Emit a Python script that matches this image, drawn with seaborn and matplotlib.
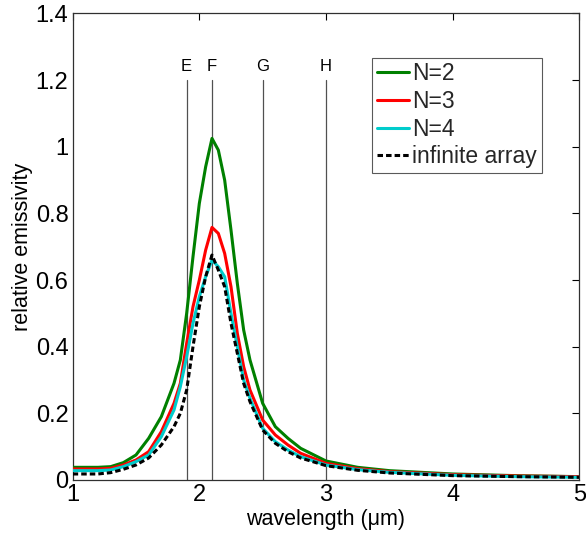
import numpy as np
import pandas as pd
import matplotlib
matplotlib.use("Agg")
import matplotlib.pyplot as plt
import seaborn as sns

wavelength = [1.0, 1.2, 1.3, 1.4, 1.5, 1.6, 1.7, 1.8, 1.85, 1.9, 1.95, 2.0, 2.05, 2.1, 2.15,
              2.2, 2.25, 2.3, 2.35, 2.4, 2.5, 2.6, 2.7, 2.8, 3.0, 3.25, 3.5, 4.0, 4.5, 5.0]
n2 = [0.038, 0.038, 0.040, 0.052, 0.075, 0.125, 0.19, 0.29, 0.36, 0.50, 0.67, 0.83, 0.94, 1.025, 0.99,
      0.90, 0.75, 0.59, 0.45, 0.36, 0.23, 0.16, 0.125, 0.095, 0.057, 0.038, 0.028, 0.018, 0.013, 0.010]
n3 = [0.033, 0.033, 0.035, 0.045, 0.060, 0.085, 0.145, 0.23, 0.29, 0.41, 0.52, 0.60, 0.69, 0.758, 0.74,
      0.68, 0.58, 0.44, 0.34, 0.27, 0.18, 0.135, 0.105, 0.080, 0.050, 0.034, 0.025, 0.016, 0.012, 0.010]
n4 = [0.028, 0.028, 0.030, 0.040, 0.055, 0.075, 0.13, 0.21, 0.28, 0.37, 0.47, 0.55, 0.61, 0.66, 0.64,
      0.61, 0.50, 0.40, 0.30, 0.245, 0.155, 0.115, 0.090, 0.070, 0.045, 0.031, 0.023, 0.014, 0.010, 0.008]
infinite = [0.018, 0.018, 0.022, 0.032, 0.045, 0.066, 0.105, 0.16, 0.20, 0.27, 0.40, 0.52, 0.61, 0.675, 0.63,
            0.58, 0.47, 0.38, 0.29, 0.235, 0.15, 0.11, 0.085, 0.066, 0.043, 0.029, 0.021, 0.013, 0.010, 0.008]

series_names = ["N=2", "N=3", "N=4", "infinite array"]
series_values = [n2, n3, n4, infinite]
series_colors = ["#008000", "#ff0000", "#00cccc", "#000000"]
series_styles = ["-", "-", "-", (0, (1.8, 1.0))]

marker_labels = ["E", "F", "G", "H"]
marker_positions = [1.9, 2.1, 2.5, 3.0]

sns.set_theme(style="white")
plt.rcParams["font.family"] = ["Liberation Sans", "DejaVu Sans"]

fig = plt.figure(figsize=(5.86, 5.39), dpi=100)
ax = fig.add_axes([0.124, 0.1095, 0.8646, 0.8655])

for xm, lab in zip(marker_positions, marker_labels):
    ax.plot([xm, xm], [0, 1.2], color="#505050", lw=0.9, zorder=1)
    ax.text(xm, 1.242, lab, ha="center", va="center", fontsize=12, color="black")

for name, vals, col, ls in zip(series_names, series_values, series_colors, series_styles):
    df = pd.DataFrame({"x": wavelength, "y": vals})
    sns.lineplot(data=df, x="x", y="y", ax=ax, color=col, linestyle=ls, lw=2.2,
                 label=name, zorder=3)

ax.set_xlim(1, 5)
ax.set_ylim(0, 1.4)
ax.set_xticks([1, 2, 3, 4, 5])
ax.set_xticklabels(["1", "2", "3", "4", "5"])
ax.set_yticks([0, 0.2, 0.4, 0.6, 0.8, 1.0, 1.2, 1.4])
ax.set_yticklabels(["0", "0.2", "0.4", "0.6", "0.8", "1", "1.2", "1.4"])
ax.tick_params(direction="in", length=5, width=0.8, top=True, right=True,
               labelsize=17, colors="black", pad=3)
for sp in ax.spines.values():
    sp.set_color("#303030")
    sp.set_linewidth(0.9)
ax.set_xlabel("wavelength (μm)", fontsize=15.5, color="black", labelpad=2)
ax.set_ylabel("relative emissivity", fontsize=15.5, color="black", labelpad=2)

leg = ax.legend(loc="upper left", bbox_to_anchor=(0.591, 0.905), fontsize=16.5,
                handlelength=1.4, handletextpad=0.15, borderpad=0.2,
                labelspacing=0.2, frameon=True, fancybox=False, borderaxespad=0)
leg.get_frame().set_edgecolor("#303030")
leg.get_frame().set_linewidth(0.8)

fig.savefig("out.png", dpi=100)
